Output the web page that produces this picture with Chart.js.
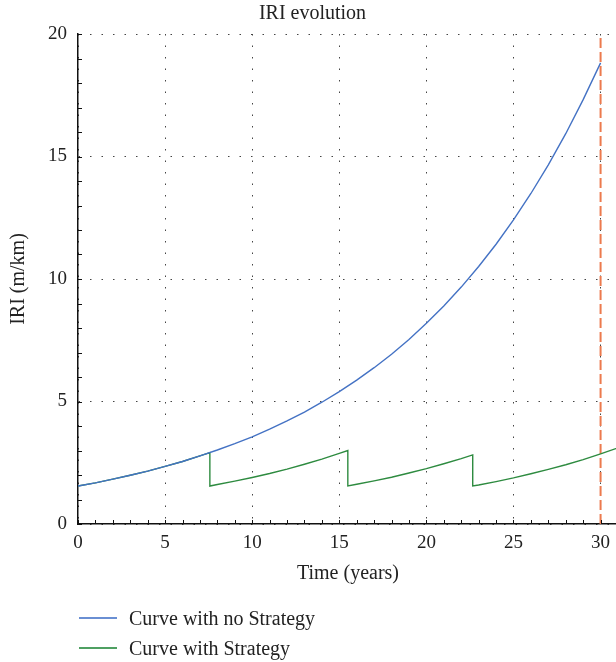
<!DOCTYPE html>
<html>
<head>
<meta charset="utf-8">
<title>IRI evolution</title>
<script src="https://cdn.jsdelivr.net/npm/chart.js@4.4.1/dist/chart.umd.min.js"></script>
<style>
  html, body { margin: 0; padding: 0; background: #fff; }
  body { width: 616px; height: 662px; overflow: hidden; position: relative; }
  #wrap { position: absolute; left: 0; top: 0; width: 680px; height: 662px; }
  #legend { position: absolute; left: 0; top: 0; font-family: "Liberation Serif", "Times New Roman", serif; font-size: 20px; color: #222; }
  .item { position: absolute; left: 79px; height: 24px; white-space: nowrap; }
  .item .swatch { position: absolute; left: 0; top: 11px; width: 38px; height: 2px; }
  .item .label { position: absolute; left: 50px; top: 0; line-height: 24px; }
</style>
</head>
<body>
<div id="wrap"><canvas id="chart" width="680" height="662"></canvas></div>
<div id="legend">
  <div class="item" style="top:606px"><span class="swatch" style="background:#6a8fd3"></span><span class="label">Curve with no Strategy</span></div>
  <div class="item" style="top:636px"><span class="swatch" style="background:#4fa062"></span><span class="label">Curve with Strategy</span></div>
</div>
<script>
(function () {
  'use strict';

  // ── DATA ──────────────────────────────────────────────────────────────────
  var xTicks = [0, 5, 10, 15, 20, 25, 30];
  var yTicks = [0, 5, 10, 15, 20];

  var years = [0, 1, 2, 3, 4, 5, 6, 7, 8, 9, 10, 11, 12, 13, 14, 15,
               16, 17, 18, 19, 20, 21, 22, 23, 24, 25, 26, 27, 28, 29, 30];
  var iriNoStrategy = [1.55, 1.68, 1.83, 1.99, 2.16, 2.35, 2.55, 2.78, 3.02, 3.28, 3.56,
                       3.87, 4.21, 4.57, 4.97, 5.40, 5.87, 6.38, 6.93, 7.53, 8.19,
                       8.90, 9.67, 10.51, 11.42, 12.41, 13.49, 14.66, 15.93, 17.32, 18.82];

  var strategyYears = [0, 1, 2, 3, 4, 5, 6, 7, 7.57,
                       7.57, 8, 9, 10, 11, 12, 13, 14, 15, 15.49,
                       15.49, 16, 17, 18, 19, 20, 21, 22, 22.66,
                       22.66, 23, 24, 25, 26, 27, 28, 29, 30, 31];
  var iriStrategy = [1.55, 1.68, 1.83, 1.99, 2.16, 2.35, 2.55, 2.78, 2.91,
                     1.55, 1.61, 1.75, 1.90, 2.06, 2.24, 2.44, 2.65, 2.88, 3.00,
                     1.55, 1.62, 1.76, 1.91, 2.08, 2.26, 2.46, 2.67, 2.82,
                     1.55, 1.59, 1.73, 1.88, 2.05, 2.23, 2.42, 2.63, 2.86, 3.11];

  var horizonYear = 30;
  var horizonRange = [0, 20];

  var X_MAX = 31;
  var FONT = '"Liberation Serif", "Times New Roman", serif';

  function pairs(xs, ys) {
    return xs.map(function (x, i) { return { x: x, y: ys[i] }; });
  }

  // ── MINOR TICKS (inward, every year / every 1 m/km) ───────────────────────
  var minorTicks = {
    id: 'minorTicks',
    afterDatasetsDraw: function (chart) {
      var ctx = chart.ctx;
      var xs = chart.scales.x, ys = chart.scales.y;
      var area = chart.chartArea;
      ctx.save();
      ctx.strokeStyle = '#111';
      ctx.lineWidth = 1;
      ctx.beginPath();
      for (var i = 0; i <= X_MAX; i++) {
        var px = Math.round(xs.getPixelForValue(i)) + 0.5;
        ctx.moveTo(px, area.bottom);
        ctx.lineTo(px, area.bottom - 4);
      }
      for (var j = 0; j <= 20; j++) {
        var py = Math.round(ys.getPixelForValue(j)) + 0.5;
        ctx.moveTo(area.left, py);
        ctx.lineTo(area.left + 4, py);
      }
      ctx.stroke();
      ctx.restore();
    }
  };

  Chart.defaults.font.family = FONT;
  Chart.defaults.color = '#222';

  new Chart(document.getElementById('chart'), {
    type: 'line',
    data: {
      datasets: [
        {
          label: 'Curve with no Strategy',
          data: pairs(years, iriNoStrategy),
          borderColor: '#4472c4',
          borderWidth: 1.4,
          pointRadius: 0,
          tension: 0
        },
        {
          label: 'Curve with Strategy',
          data: pairs(strategyYears, iriStrategy),
          borderColor: '#2e8b40',
          borderWidth: 1.4,
          pointRadius: 0,
          tension: 0
        },
        {
          label: 'Horizon',
          data: pairs([horizonYear, horizonYear], horizonRange),
          borderColor: '#ec7a4e',
          borderWidth: 2,
          borderDash: [10, 4],
          pointRadius: 0
        }
      ]
    },
    options: {
      responsive: false,
      animation: false,
      layout: { padding: { left: 7, right: 62, top: 0, bottom: 76 } },
      plugins: {
        legend: { display: false },
        tooltip: { enabled: false },
        title: {
          display: true,
          text: 'IRI evolution',
          color: '#222',
          font: { size: 20, weight: 'normal' },
          padding: { top: 2, bottom: 8 }
        }
      },
      scales: {
        x: {
          type: 'linear',
          min: 0,
          max: X_MAX,
          afterBuildTicks: function (axis) {
            axis.ticks = xTicks.map(function (v) { return { value: v }; });
          },
          afterFit: function (axis) { axis.height = 62; },
          ticks: { color: '#222', font: { size: 19 }, padding: 8, maxRotation: 0 },
          grid: { color: '#444', lineWidth: 1, drawTicks: false },
          border: { color: '#111', width: 1.5, dash: [1.5, 10] },
          title: { display: true, text: 'Time (years)', color: '#222', font: { size: 20 }, padding: 0 }
        },
        y: {
          type: 'linear',
          min: 0,
          max: 20,
          afterBuildTicks: function (axis) {
            axis.ticks = yTicks.map(function (v) { return { value: v }; });
          },
          afterFit: function (axis) { axis.width = 71; },
          ticks: { color: '#222', font: { size: 19 }, padding: 11 },
          grid: { color: '#444', lineWidth: 1, drawTicks: false },
          border: { color: '#111', width: 1.5, dash: [1.5, 10] },
          title: { display: true, text: 'IRI (m/km)', color: '#222', font: { size: 20 }, padding: 0 }
        }
      }
    },
    plugins: [minorTicks]
  });
}());
</script>
</body>
</html>
